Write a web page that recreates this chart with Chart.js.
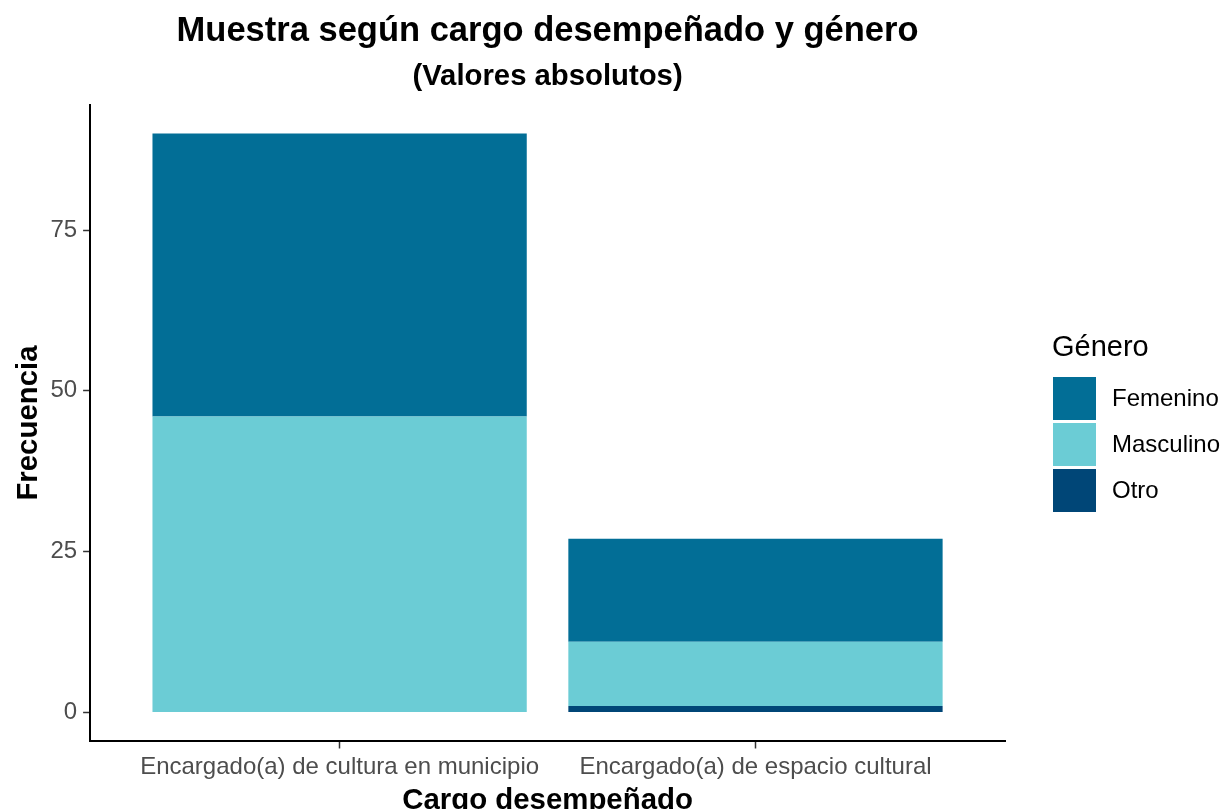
<!DOCTYPE html>
<html lang="es">
<head>
<meta charset="utf-8">
<title>Muestra según cargo desempeñado y género</title>
<script src="https://cdn.jsdelivr.net/npm/chart.js@4.4.1/dist/chart.umd.min.js"></script>
<style>
  html, body { margin: 0; padding: 0; background: #ffffff; }
  #contenedor { width: 1224px; height: 809px; position: relative; }
</style>
</head>
<body>
<div id="contenedor"><canvas id="graficoCargos"></canvas></div>
<script>
// Datos
const categorias = ['Encargado(a) de cultura en municipio', 'Encargado(a) de espacio cultural'];
const posicionesX = [0, 1];
const femenino = [44, 16];
const masculino = [46, 10];
const otro = [0, 1];
const ticksY = [0, 25, 50, 75];

const generos = ['Femenino', 'Masculino', 'Otro'];
const coloresGenero = {
  Femenino: '#026E96',
  Masculino: '#6BCCD5',
  Otro: '#004677'
};

const FUENTE = "'Liberation Sans', Arial, Helvetica, sans-serif";

function puntos(valores) {
  return valores.map((v, i) => ({ x: posicionesX[i], y: v }));
}

// Leyenda dibujada a mano, al estilo ggplot
const leyendaGenero = {
  id: 'leyendaGenero',
  afterDraw(chart) {
    const ctx = chart.ctx;
    const x0 = 1053;
    ctx.save();
    ctx.fillStyle = '#000000';
    ctx.textAlign = 'left';
    ctx.textBaseline = 'middle';
    ctx.font = '29px ' + FUENTE;
    ctx.fillText('Género', x0 - 1, 348);

    ctx.font = '24px ' + FUENTE;
    generos.forEach((g, i) => {
      const y = 377 + i * 46;
      ctx.fillStyle = coloresGenero[g];
      ctx.fillRect(x0, y, 43, 43);
      ctx.fillStyle = '#000000';
      ctx.fillText(g, x0 + 59, y + 22);
    });
    ctx.restore();
  }
};

document.addEventListener('DOMContentLoaded', () => {
  const ctx = document.getElementById('graficoCargos').getContext('2d');

  new Chart(ctx, {
    type: 'bar',
    data: {
      datasets: [
        { label: 'Otro', data: puntos(otro), backgroundColor: coloresGenero.Otro },
        { label: 'Masculino', data: puntos(masculino), backgroundColor: coloresGenero.Masculino },
        { label: 'Femenino', data: puntos(femenino), backgroundColor: coloresGenero.Femenino }
      ]
    },
    options: {
      responsive: true,
      maintainAspectRatio: false,
      animation: false,
      datasets: {
        bar: {
          categoryPercentage: 0.9,
          barPercentage: 1,
          borderWidth: 0
        }
      },
      layout: {
        padding: { top: 0, right: 219, bottom: 0, left: 0 }
      },
      scales: {
        x: {
          type: 'linear',
          stacked: true,
          offset: false,
          min: -0.6,
          max: 1.6,
          afterBuildTicks: scale => { scale.ticks = posicionesX.map(v => ({ value: v })); },
          ticks: {
            color: '#4D4D4D',
            font: { family: FUENTE, size: 24, lineHeight: 1 },
            padding: 7,
            maxRotation: 0,
            autoSkip: false,
            callback: value => categorias[posicionesX.indexOf(value)]
          },
          grid: {
            display: true,
            offset: false,
            drawOnChartArea: false,
            drawTicks: true,
            tickLength: 7,
            tickWidth: 1.5,
            tickColor: '#333333'
          },
          border: { display: true, color: '#000000', width: 2 },
          title: {
            display: true,
            text: 'Cargo desempeñado',
            color: '#000000',
            font: { family: FUENTE, size: 29.4, weight: 'bold', lineHeight: 0.8 },
            padding: { top: 3, bottom: -4 }
          }
        },
        y: {
          type: 'linear',
          stacked: true,
          min: -4.5,
          max: 94.5,
          afterBuildTicks: scale => { scale.ticks = ticksY.map(v => ({ value: v })); },
          ticks: {
            color: '#4D4D4D',
            font: { family: FUENTE, size: 24, lineHeight: 1 },
            padding: 6
          },
          grid: {
            display: true,
            drawOnChartArea: false,
            drawTicks: true,
            tickLength: 7,
            tickWidth: 1.5,
            tickColor: '#333333'
          },
          border: { display: true, color: '#000000', width: 2 },
          title: {
            display: true,
            text: 'Frecuencia',
            color: '#000000',
            font: { family: FUENTE, size: 29.4, weight: 'bold', lineHeight: 1 },
            padding: { top: 14, bottom: 1 }
          }
        }
      },
      plugins: {
        legend: { display: false },
        tooltip: { enabled: false },
        title: {
          display: true,
          text: 'Muestra según cargo desempeñado y género',
          color: '#000000',
          fullSize: false,
          font: { family: FUENTE, size: 34.5, weight: 'bold', lineHeight: 1.2 },
          padding: { top: 11, bottom: 0 }
        },
        subtitle: {
          display: true,
          text: '(Valores absolutos)',
          color: '#000000',
          fullSize: false,
          font: { family: FUENTE, size: 29.3, weight: 'bold', lineHeight: 1.2 },
          padding: { top: 7, bottom: 10 }
        }
      }
    },
    plugins: [leyendaGenero]
  });
});
</script>
</body>
</html>
